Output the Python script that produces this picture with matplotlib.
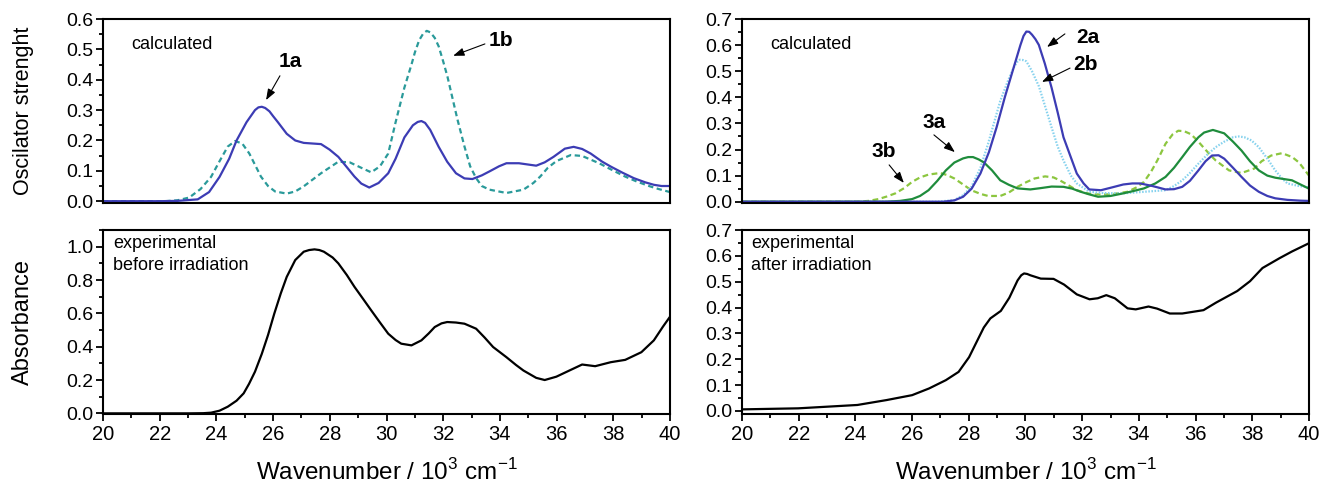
"""Calculated oscillator strengths vs. experimental absorbance (before / after irradiation)."""

import matplotlib

matplotlib.use("Agg")
import matplotlib.pyplot as plt
from matplotlib.ticker import MultipleLocator

plt.rcParams["font.family"] = ["Liberation Sans", "DejaVu Sans"]
plt.rcParams["mathtext.fontset"] = "custom"
plt.rcParams["mathtext.rm"] = "Liberation Sans"

# ───────────────────────── data ─────────────────────────

# top left: calculated 1a (solid) and 1b (dashed)
x_1a = [20, 22, 22.63, 23.34, 23.74, 24.11, 24.45, 24.71, 25.06, 25.36, 25.48, 25.6,
        25.72, 25.87, 26.0, 26.17, 26.48, 26.78, 27.08, 27.69, 27.99, 28.3, 28.6,
        28.87, 29.11, 29.39, 29.72, 30.06, 30.32, 30.63, 30.93, 31.1, 31.23, 31.36,
        31.54, 31.84, 32.14, 32.45, 32.75, 33.03, 33.36, 33.63, 33.97, 34.23, 34.67,
        35.28, 35.58, 35.89, 36.29, 36.6, 36.9, 37.2, 37.61, 37.91, 38.32, 38.72,
        39.13, 39.43, 39.7, 40]
y_1a = [0, 0, 0.001, 0.006, 0.03, 0.08, 0.14, 0.2, 0.26, 0.3, 0.309, 0.311,
        0.307, 0.296, 0.28, 0.26, 0.222, 0.2, 0.192, 0.188, 0.17, 0.146, 0.112,
        0.081, 0.058, 0.045, 0.06, 0.092, 0.14, 0.21, 0.25, 0.261, 0.264, 0.258,
        0.235, 0.179, 0.13, 0.092, 0.075, 0.073, 0.085, 0.098, 0.115, 0.125, 0.125,
        0.117, 0.128, 0.146, 0.173, 0.179, 0.172, 0.157, 0.13, 0.114, 0.094, 0.076,
        0.062, 0.054, 0.05, 0.05]

x_1b = [20, 22.18, 22.63, 23.04, 23.44, 23.81, 24.1, 24.4, 24.66, 24.91, 25.16, 25.57,
        25.82, 26.07, 26.48, 26.78, 27.08, 27.69, 28.3, 28.7, 29.11, 29.46, 29.77,
        30.06, 30.32, 30.63, 30.88, 31.0, 31.15, 31.3, 31.42, 31.55, 31.7, 31.84,
        32.0, 32.15, 32.3, 32.5, 32.75, 32.95, 33.16, 33.36, 33.63, 34.23, 34.83,
        35.18, 35.42, 35.69, 35.99, 36.5, 36.9, 37.5, 37.91, 38.42, 38.82, 39.29,
        39.6, 40]
y_1b = [0, 0, 0.003, 0.012, 0.04, 0.08, 0.13, 0.18, 0.198, 0.19, 0.157, 0.081,
        0.05, 0.032, 0.025, 0.032, 0.049, 0.092, 0.13, 0.128, 0.11, 0.095, 0.115,
        0.157, 0.26, 0.374, 0.45, 0.49, 0.53, 0.553, 0.561, 0.556, 0.538, 0.51,
        0.46, 0.41, 0.35, 0.27, 0.18, 0.115, 0.076, 0.05, 0.038, 0.027, 0.038,
        0.06, 0.081, 0.11, 0.132, 0.152, 0.149, 0.125, 0.105, 0.081, 0.065, 0.049,
        0.04, 0.03]

# top right: calculated 2a, 2b, 3a, 3b
x_2a = [20, 27.09, 27.49, 27.8, 28.1, 28.41, 28.71, 28.98, 29.27, 29.58, 29.82, 29.93,
        30.03, 30.13, 30.23, 30.35, 30.47, 30.68, 30.92, 31.14, 31.34, 31.6, 31.81,
        32.05, 32.25, 32.66, 33.06, 33.45, 33.77, 34.05, 34.48, 34.94, 35.24, 35.53,
        35.8, 36.1, 36.35, 36.58, 36.81, 37.01, 37.32, 37.62, 37.92, 38.23, 38.53,
        38.81, 39.24, 39.7, 40]
y_2a = [0, 0, 0.005, 0.019, 0.05, 0.108, 0.19, 0.285, 0.4, 0.513, 0.6, 0.635,
        0.652, 0.651, 0.64, 0.623, 0.601, 0.53, 0.437, 0.34, 0.247, 0.17, 0.108,
        0.07, 0.047, 0.044, 0.055, 0.066, 0.07, 0.07, 0.06, 0.047, 0.048, 0.057,
        0.08, 0.12, 0.155, 0.177, 0.178, 0.165, 0.13, 0.095, 0.062, 0.038, 0.022,
        0.013, 0.007, 0.004, 0.003]

x_2b = [20, 26.89, 27.49, 27.8, 28.09, 28.41, 28.68, 28.91, 29.11, 29.37, 29.58, 29.7,
        29.8, 29.9, 30.03, 30.23, 30.47, 30.68, 30.92, 31.14, 31.34, 31.6, 31.81,
        32.25, 32.76, 33.45, 34.18, 34.94, 35.24, 35.53, 35.8, 36.1, 36.41, 36.71,
        37.01, 37.32, 37.52, 37.72, 37.97, 38.23, 38.53, 38.81, 39.04, 39.24, 39.65, 40]
y_2b = [0, 0, 0.006, 0.025, 0.057, 0.13, 0.222, 0.31, 0.386, 0.46, 0.513, 0.535,
        0.544, 0.543, 0.538, 0.5, 0.443, 0.37, 0.285, 0.21, 0.158, 0.1, 0.07,
        0.038, 0.033, 0.032, 0.038, 0.044, 0.06, 0.082, 0.11, 0.146, 0.18, 0.209,
        0.23, 0.247, 0.25, 0.247, 0.235, 0.209, 0.165, 0.12, 0.09, 0.07, 0.06, 0.055]

x_3a = [20, 25.06, 25.57, 26.0, 26.28, 26.58, 26.89, 27.19, 27.49, 27.8, 27.98, 28.15,
        28.35, 28.54, 28.82, 29.11, 29.41, 29.72, 30.17, 30.53, 30.92, 31.34, 31.65,
        31.95, 32.25, 32.56, 33.0, 33.45, 33.77, 34.18, 34.58, 34.94, 35.24, 35.53,
        35.8, 36.1, 36.3, 36.61, 37.01, 37.32, 37.62, 37.92, 38.23, 38.53, 38.81,
        39.4, 40]
y_3a = [0, 0, 0.003, 0.01, 0.022, 0.044, 0.08, 0.12, 0.15, 0.166, 0.171, 0.171,
        0.162, 0.15, 0.12, 0.082, 0.065, 0.051, 0.047, 0.052, 0.058, 0.057, 0.05,
        0.038, 0.028, 0.019, 0.022, 0.032, 0.04, 0.051, 0.07, 0.095, 0.13, 0.171,
        0.21, 0.247, 0.265, 0.275, 0.262, 0.23, 0.196, 0.155, 0.12, 0.1, 0.092,
        0.082, 0.05]

x_3b = [20, 24.05, 24.46, 24.81, 25.11, 25.41, 25.72, 26.0, 26.28, 26.58, 26.99, 27.24,
        27.49, 27.8, 28.09, 28.41, 28.68, 29.11, 29.41, 29.72, 30.03, 30.32, 30.69,
        30.99, 31.21, 31.5, 31.81, 32.15, 32.41, 33.0, 33.6, 33.92, 34.18, 34.43,
        34.65, 34.94, 35.19, 35.39, 35.6, 35.83, 36.05, 36.27, 36.51, 36.71, 37.18,
        37.62, 38.07, 38.33, 38.67, 39.05, 39.41, 39.65, 39.86, 40]
y_3b = [0, 0, 0.003, 0.01, 0.02, 0.032, 0.052, 0.076, 0.093, 0.104, 0.11, 0.102,
        0.089, 0.066, 0.044, 0.03, 0.022, 0.022, 0.035, 0.057, 0.075, 0.089, 0.097,
        0.093, 0.082, 0.064, 0.044, 0.033, 0.028, 0.028, 0.038, 0.055, 0.076, 0.115,
        0.158, 0.222, 0.258, 0.272, 0.27, 0.259, 0.236, 0.209, 0.18, 0.158, 0.12,
        0.11, 0.127, 0.155, 0.177, 0.186, 0.171, 0.15, 0.12, 0.1]

# bottom: experimental absorbance
x_before = [20, 23.04, 23.54, 23.81, 24.11, 24.4, 24.71, 24.96, 25.15, 25.36, 25.6,
            25.82, 26.04, 26.27, 26.48, 26.78, 27.08, 27.27, 27.46, 27.63, 27.79,
            28.1, 28.3, 28.6, 28.87, 29.16, 29.46, 29.77, 30.06, 30.32, 30.52, 30.88,
            31.23, 31.49, 31.7, 31.94, 32.14, 32.45, 32.75, 33.16, 33.46, 33.76,
            34.23, 34.57, 34.83, 35.28, 35.58, 35.99, 36.45, 36.9, 37.36, 37.91,
            38.42, 38.99, 39.43, 39.75, 40]
y_before = [0, 0, 0.001, 0.004, 0.016, 0.04, 0.076, 0.12, 0.177, 0.25, 0.357,
            0.47, 0.598, 0.72, 0.819, 0.92, 0.97, 0.98, 0.984, 0.98, 0.97,
            0.935, 0.9, 0.83, 0.759, 0.69, 0.618, 0.545, 0.478, 0.44, 0.418, 0.408,
            0.438, 0.48, 0.518, 0.54, 0.548, 0.545, 0.538, 0.508, 0.455, 0.398,
            0.337, 0.29, 0.257, 0.213, 0.2, 0.22, 0.257, 0.293, 0.283, 0.307,
            0.321, 0.367, 0.438, 0.52, 0.58]

x_after = [20, 21.98, 24.07, 25.1, 26.0, 26.6, 27.19, 27.64, 28.01, 28.24, 28.53,
           28.76, 29.13, 29.43, 29.72, 29.85, 29.95, 30.06, 30.17, 30.54, 30.99,
           31.36, 31.81, 32.26, 32.55, 32.85, 33.15, 33.6, 33.89, 34.34, 34.64,
           35.09, 35.53, 36.28, 36.72, 37.47, 37.92, 38.36, 38.96, 39.4, 40]
y_after = [0.006, 0.01, 0.023, 0.042, 0.061, 0.087, 0.119, 0.151, 0.208, 0.259,
           0.323, 0.358, 0.387, 0.438, 0.505, 0.525, 0.532, 0.53, 0.525, 0.512,
           0.511, 0.489, 0.451, 0.432, 0.436, 0.448, 0.436, 0.397, 0.393, 0.404,
           0.396, 0.377, 0.377, 0.39, 0.419, 0.464, 0.502, 0.553, 0.591, 0.617, 0.649]

BLUE = "#3c3cb4"
TEAL = "#2a9a9a"
SKY = "#86d2ee"
GREEN = "#1f8c3c"
LIME = "#8cc63f"

# ───────────────────────── figure ─────────────────────────

fig = plt.figure(figsize=(13.21, 4.88), dpi=100)
ax_tl = fig.add_axes([0.078, 0.584, 0.4292, 0.377])
ax_tr = fig.add_axes([0.5617, 0.584, 0.4292, 0.377])
ax_bl = fig.add_axes([0.078, 0.1516, 0.4292, 0.377])
ax_br = fig.add_axes([0.5617, 0.1516, 0.4292, 0.377])

for ax in (ax_tl, ax_tr, ax_bl, ax_br):
    ax.set_xlim(20, 40)
    for s in ax.spines.values():
        s.set_linewidth(1.5)
    ax.xaxis.set_major_locator(MultipleLocator(2))
    ax.xaxis.set_minor_locator(MultipleLocator(1))
    ax.tick_params(which="both", direction="out", width=1.3, top=False, right=False)
    ax.tick_params(which="major", length=5)
    ax.tick_params(which="minor", length=3)
    ax.tick_params(axis="y", labelsize=14, pad=2)
    ax.tick_params(axis="x", labelsize=14.5, pad=3)

for ax in (ax_tl, ax_tr):
    ax.tick_params(axis="x", which="both", bottom=False, labelbottom=False)
    ax.yaxis.set_major_locator(MultipleLocator(0.1))
    ax.yaxis.set_minor_locator(MultipleLocator(0.05))
    ax.text(0.049, 0.86, "calculated", transform=ax.transAxes, fontsize=13, va="center")

ax_tl.set_ylim(-0.006, 0.6)
ax_tr.set_ylim(-0.005, 0.7)
ax_bl.set_ylim(-0.004, 1.1)
ax_br.set_ylim(-0.012, 0.7)
ax_bl.yaxis.set_major_locator(MultipleLocator(0.2))
ax_bl.yaxis.set_minor_locator(MultipleLocator(0.1))
ax_br.yaxis.set_major_locator(MultipleLocator(0.1))
ax_br.yaxis.set_minor_locator(MultipleLocator(0.05))

# top left
ax_tl.plot(x_1b, y_1b, color=TEAL, lw=1.6, ls=(0, (2.4, 1.6)))
ax_tl.plot(x_1a, y_1a, color=BLUE, lw=1.6)

# top right
ax_tr.plot(x_3b, y_3b, color=LIME, lw=1.6, ls=(0, (2.6, 1.6)))
ax_tr.plot(x_2b, y_2b, color=SKY, lw=1.6, ls=(0, (0.7, 0.7)))
ax_tr.plot(x_3a, y_3a, color=GREEN, lw=1.6)
ax_tr.plot(x_2a, y_2a, color=BLUE, lw=1.6)

# bottom
ax_bl.plot(x_before, y_before, color="black", lw=1.6)
ax_br.plot(x_after, y_after, color="black", lw=1.6)
ax_bl.text(0.018, 0.975, "experimental\nbefore irradiation", transform=ax_bl.transAxes,
           fontsize=13, va="top", linespacing=1.45)
ax_br.text(0.016, 0.975, "experimental\nafter irradiation", transform=ax_br.transAxes,
           fontsize=13, va="top", linespacing=1.45)

# labels with arrows
arrow = dict(arrowstyle="-|>,head_length=0.6,head_width=0.22", color="black", lw=0.8,
             mutation_scale=11, shrinkA=0, shrinkB=0)
labels = [
    (ax_tl, "1a", (26.6, 0.459), (26.24, 0.413), (25.75, 0.333)),
    (ax_tl, "1b", (34.04, 0.528), (33.47, 0.518), (32.35, 0.479)),
    (ax_tr, "2a", (32.2, 0.631), (31.39, 0.643), (30.76, 0.593)),
    (ax_tr, "2b", (32.13, 0.524), (31.57, 0.512), (30.58, 0.459)),
    (ax_tr, "3a", (26.77, 0.302), (26.77, 0.256), (27.51, 0.190)),
    (ax_tr, "3b", (25.01, 0.194), (25.19, 0.141), (25.71, 0.072)),
]
for ax, txt, pos, start, end in labels:
    ax.text(pos[0], pos[1], txt, fontsize=15, fontweight="bold", ha="center", va="center")
    ax.annotate("", xy=end, xytext=start, arrowprops=arrow)

ax_tl.set_ylabel("Oscilator strenght", fontsize=15.5)
ax_bl.set_ylabel("Absorbance", fontsize=17)
for ax in (ax_tl, ax_bl):
    ax.yaxis.set_label_coords(-0.121, 0.5)
for ax in (ax_bl, ax_br):
    ax.set_xlabel(r"Wavenumber / 10$^3$ cm$^{-1}$", fontsize=17.5, labelpad=11)

fig.savefig("out.png", dpi=100)
